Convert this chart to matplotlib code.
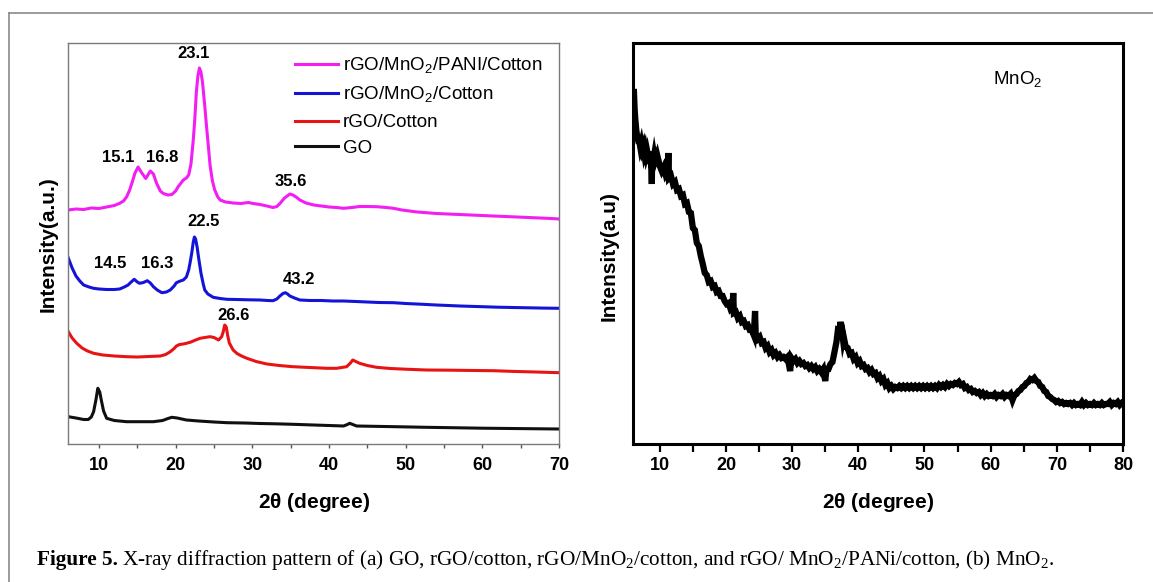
import matplotlib
matplotlib.use("Agg")
import matplotlib.pyplot as plt
from matplotlib.lines import Line2D

plt.rcParams["font.family"] = ["Liberation Sans", "DejaVu Sans"]

# ---------------- data ----------------
# (a) intensities in arbitrary units, curves already offset as drawn
pani_x = [6, 7, 8, 9, 10, 11, 12, 12.7, 13.2, 13.6, 14.0, 14.3, 14.7, 15.1, 15.5,
          16.1, 16.7, 17.1, 17.5, 18.0, 18.4, 19.0, 19.5, 20.0, 20.3, 20.7, 21.0,
          21.4, 21.7, 22.0, 22.3, 22.5, 22.7, 22.9, 23.1, 23.3, 23.5, 23.8, 24.0,
          24.3, 24.5, 24.8, 25.1, 25.5, 25.8, 26.5, 27.5, 28.5, 29.5, 30.1, 31.0,
          31.9, 32.7, 33.2, 33.6, 34.2, 34.9, 35.3, 35.8, 36.2, 37.0, 38.0, 39.0,
          40.0, 41.0, 41.9, 43.0, 44.0, 45.0, 46.2, 47.5, 48.4, 49.5, 50.5, 51.5,
          52.7, 54.0, 55.5, 57.0, 58.5, 60.0, 61.4, 63.0, 64.5, 66.0, 67.5, 69.0, 70.0]
pani_y = [234, 235, 234.5, 236, 235.5, 237, 238.5, 240.7, 243, 247, 254, 261, 271,
          277, 272, 265.5, 273, 270, 261, 253, 250.5, 249, 249.5, 253, 257, 261,
          264, 266, 269, 280, 304, 325, 352, 368, 376, 372, 362, 338, 320, 295, 278,
          263, 254, 247, 244, 242, 241, 240.5, 241.5, 240.5, 239.5, 238, 236.5,
          237.5, 240.5, 246, 250, 249, 246.5, 244, 241, 239, 238, 237, 236.5, 235.7,
          236.5, 237.5, 237.5, 237.3, 236.5, 235.7, 234, 233, 232, 231.3, 230.5,
          230, 229.5, 229, 228.5, 228, 227.5, 227, 226.5, 226, 225.5, 225]

mno2c_x = [6, 6.5, 7.0, 7.5, 8.0, 8.7, 9.3, 10.0, 11.0, 12.0, 12.7, 13.3, 13.8, 14.2,
           14.6, 15.0, 15.3, 15.8, 16.3, 16.7, 17.1, 17.6, 18.2, 18.8, 19.3, 19.8,
           20.1, 20.6, 21.0, 21.4, 21.7, 21.9, 22.1, 22.3, 22.45, 22.6, 22.8, 23.0,
           23.3, 23.6, 23.8, 24.2, 24.9, 25.8, 26.7, 28.0, 29.5, 31.0, 32.0, 32.7,
           33.2, 33.6, 34.0, 34.3, 34.6, 34.9, 35.5, 36.2, 37.5, 39.0, 40.5, 41.9,
           43.5, 45.0, 46.5, 48.4, 50.0, 52.0, 54.0, 57.1, 60.0, 62.0, 64.0, 66.0,
           68.0, 70.0]
mno2c_y = [186, 176, 168, 163, 159, 157, 155.7, 155, 154.5, 154.5, 155, 157, 159, 162,
           164.7, 162, 160.7, 161.5, 163.3, 161, 157.3, 154, 151.3, 152, 154, 158,
           161.3, 163, 164, 167, 174, 182, 191, 202, 207, 205, 197, 186, 171, 160,
           154, 150, 146.7, 145.5, 144.7, 144.5, 144.2, 144, 143.5, 143.3, 145, 148,
           150.5, 151.3, 150, 148, 146, 144, 143.5, 143.5, 143, 143, 142.5, 142,
           141.5, 141.3, 140.5, 139.8, 139, 138, 137.3, 136.8, 136.5, 136.2, 135.9,
           135.7]

rgo_x = [6, 6.5, 7.1, 7.8, 8.5, 9.3, 10.5, 12.0, 13.6, 15.0, 16.5, 18.0, 18.7, 19.3,
         19.8, 20.1, 20.5, 21.0, 21.4, 22.0, 22.6, 23.2, 23.8, 24.5, 25.0, 25.6, 26.0,
         26.2, 26.4, 26.6, 26.8, 27.0, 27.5, 28.0, 28.6, 29.3, 30.5, 31.9, 33.5, 35.3,
         37.5, 39.7, 41.0, 42.3, 42.8, 43.1, 43.5, 44.0, 45.0, 46.2, 48.0, 50.0, 52.7,
         56.0, 59.0, 61.4, 64.0, 67.0, 70.0]
rgo_y = [112.3, 106, 100.7, 96, 93, 90.7, 89, 88, 87.3, 87, 87.5, 88, 89.5, 92.3,
         95.5, 98, 99.5, 100, 100.7, 102, 104, 105.7, 106.5, 107.3, 106.5, 104, 107.3,
         112, 119, 117, 108, 101, 94, 90.5, 88, 85.7, 82.5, 80, 78.5, 77.3, 76.5,
         75.7, 75.7, 77.3, 81, 84, 82.5, 80.7, 78.5, 76.7, 75.5, 74.8, 74, 73.8, 73.5,
         73.3, 72.6, 72, 71.3]

go_x = [6, 7, 8, 8.6, 9.0, 9.3, 9.6, 9.85, 10.1, 10.3, 10.6, 11.0, 12.0, 13.6, 15.5,
        17.1, 18.3, 19.0, 19.5, 20.2, 21.4, 23.0, 25.0, 26.7, 29.0, 31.0, 33.0, 35.3,
        38.0, 40.0, 41.9, 42.4, 42.7, 43.1, 43.6, 45.0, 48.0, 52.7, 56.0, 60.0, 65.0,
        70.0]
go_y = [27.3, 26, 24.5, 24.5, 27, 32.3, 44, 55.7, 52, 44, 33, 25.7, 23.5, 22.3, 22.3,
        22.3, 23.5, 25.5, 26.7, 26, 24, 23, 22, 21.3, 21, 20.5, 20.2, 19.7, 19, 18.5,
        18, 19.5, 20.7, 19.5, 18, 17.8, 17.4, 16.7, 16.3, 15.8, 15.4, 15]

series_labels = [r"rGO/MnO$_\mathregular{2}$/PANI/Cotton",
                 r"rGO/MnO$_\mathregular{2}$/Cotton",
                 "rGO/Cotton", "GO"]
series_colors = ["#f21ef2", "#1414d8", "#e81414", "#101010"]

peak_labels = ["23.1", "15.1", "16.8", "35.6", "22.5", "14.5", "16.3", "43.2", "26.6"]
peak_x = [22.4, 12.45, 18.3, 35.0, 23.7, 11.45, 17.6, 36.05, 27.6]
peak_y = [390, 286, 287, 262, 222, 180, 180, 165, 129]

# (b) MnO2 pattern (noisy trace)
mno2_x = [6.10, 6.20, 6.30, 6.45, 6.60, 6.75, 6.90, 7.05, 7.20, 7.35, 7.50, 7.65, 7.80,
          7.95, 8.10, 8.25, 8.40, 8.55, 8.70, 8.80, 8.85, 9.00, 9.15, 9.30, 9.45, 9.60,
          9.75, 10.0, 10.3, 10.6, 10.9, 11.2, 11.3, 11.4, 11.7, 12.0, 12.3, 12.6, 12.9,
          13.2, 13.5, 13.8, 14.1, 14.4, 14.7, 15.0, 15.3, 15.6, 15.9, 16.2, 16.5, 16.8,
          17.1, 17.4, 17.7, 18.0, 18.3, 18.6, 18.9, 19.2, 19.5, 19.8, 20.1, 20.4, 20.7,
          21.0, 21.1, 21.2, 21.5, 21.8, 22.1, 22.4, 22.7, 23.0, 23.3, 23.6, 23.9, 24.2,
          24.4, 24.5, 24.8, 25.1, 25.4, 25.7, 26.0, 26.3, 26.6, 26.9, 27.2, 27.5, 27.8,
          28.1, 28.4, 28.7, 29.0, 29.3, 29.7, 29.9, 30.2, 30.5, 30.8, 31.1, 31.4, 31.7,
          32.0, 32.3, 32.6, 32.9, 33.2, 33.5, 33.8, 34.1, 34.4, 34.7, 35.0, 35.2, 35.5,
          35.8, 36.1, 36.4, 36.7, 36.9, 37.1, 37.3, 37.5, 37.7, 37.8, 38.1, 38.4, 38.7,
          39.0, 39.3, 39.6, 39.9, 40.2, 40.5, 40.8, 41.1, 41.4, 41.7, 42.0, 42.3, 42.6,
          42.9, 43.2, 43.5, 43.8, 44.1, 44.4, 44.7, 45.0, 45.3, 45.6, 45.9, 46.2, 46.5,
          46.8, 47.1, 47.4, 47.7, 48.0, 48.3, 48.6, 48.9, 49.2, 49.5, 49.8, 50.1, 50.4,
          50.7, 51.0, 51.3, 51.6, 51.9, 52.2, 52.5, 52.8, 53.1, 53.4, 53.7, 54.0, 54.3,
          54.6, 54.9, 55.2, 55.5, 55.8, 56.1, 56.4, 56.7, 57.0, 57.3, 57.6, 57.9, 58.2,
          58.5, 58.8, 59.1, 59.4, 59.7, 60.0, 60.3, 60.6, 60.9, 61.2, 61.5, 61.8, 62.1,
          62.4, 62.7, 63.0, 63.3, 63.6, 63.9, 64.2, 64.5, 64.8, 65.1, 65.4, 65.7, 66.0,
          66.3, 66.6, 66.9, 67.2, 67.5, 67.8, 68.1, 68.4, 68.7, 69.0, 69.3, 69.6, 69.9,
          70.2, 70.5, 70.8, 71.1, 71.4, 71.7, 72.0, 72.3, 72.6, 72.9, 73.2, 73.5, 73.8,
          74.1, 74.4, 74.7, 75.0, 75.3, 75.6, 75.9, 76.2, 76.5, 76.8, 77.1, 77.4, 77.7,
          78.0, 78.3, 78.6, 78.9, 79.2, 79.5, 79.8, 80.0]
mno2_y = [352, 335, 325, 314, 307, 303, 303, 297, 301, 295, 298, 291, 295,
          289, 293, 288, 285, 292, 286, 260, 289, 283, 289, 283, 286, 279,
          285, 278, 273, 277, 269, 272, 291, 266, 268, 260, 262, 254, 255,
          248, 249, 240, 241, 232, 231, 216, 214, 201, 198, 188, 180, 171,
          169, 162, 163, 157, 158, 152, 153, 148, 148, 143, 140, 141, 135,
          137, 151, 131, 132, 126, 128, 122, 123, 118, 119, 114, 114, 109,
          133, 109, 105, 107, 101, 102, 96, 98, 92, 94, 89, 91, 87,
          89, 86, 87, 85, 87, 73, 86, 83, 85, 81, 83, 80, 81,
          78, 79, 76, 78, 75, 77, 73, 75, 72, 75, 63, 75, 75,
          80, 82, 92, 102, 113, 112, 122, 115, 104, 107, 97, 96, 90,
          91, 85, 87, 81, 83, 78, 79, 75, 76, 72, 74, 70, 71,
          66, 68, 63, 65, 59, 61, 56, 58, 55, 57, 56, 58, 56,
          58, 56, 58, 56, 58, 56, 58, 56, 58, 56, 58, 56, 58,
          56, 58, 56, 58, 56, 59, 57, 59, 57, 60, 58, 60, 59,
          61, 60, 62, 59, 60, 56, 57, 54, 55, 52, 53, 51, 52,
          49, 51, 48, 50, 48, 49, 48, 50, 47, 49, 48, 50, 47,
          49, 48, 50, 44, 49, 50, 53, 54, 57, 58, 61, 62, 65,
          64, 66, 63, 62, 58, 57, 53, 52, 48, 47, 45, 44, 42,
          43, 41, 42, 40, 41, 40, 41, 39, 41, 39, 40, 39, 42,
          39, 41, 39, 40, 39, 41, 39, 40, 39, 41, 39, 40, 40,
          42, 39, 41, 40, 42, 39, 41, 40]

W, H = 1153, 582
fig = plt.figure(figsize=(W / 100, H / 100), dpi=100)

# thin grey frame around the figure (only left/top edges are visible)
fig.add_artist(Line2D([8.5 / W, 8.5 / W], [0, 1 - 12.7 / H], color="#8a8a8a", lw=1.2))
fig.add_artist(Line2D([8.5 / W, 1], [1 - 12.7 / H, 1 - 12.7 / H], color="#8a8a8a", lw=1.2))

ax_bot = 1 - 444 / H
ax_h = 400.7 / H
ax1 = fig.add_axes([68.3 / W, ax_bot, 490.7 / W, ax_h])
ax2 = fig.add_axes([633.3 / W, ax_bot, 489.7 / W, ax_h])

# ---------------- (a) ----------------
xs = [pani_x, mno2c_x, rgo_x, go_x]
ys = [pani_y, mno2c_y, rgo_y, go_y]
for x, y, c, lab in zip(xs, ys, series_colors, series_labels):
    ax1.plot(x, y, color=c, lw=2.2, label=lab, solid_joinstyle="round")

for t, x, y in zip(peak_labels, peak_x, peak_y):
    ax1.text(x, y, t, ha="center", va="center", fontsize=12, fontweight="bold")

ax1.set_xlim(6, 70)
ax1.set_ylim(0, 400.7)
ax1.set_yticks([])
ax1.set_xticks(range(10, 71, 10))
ax1.set_xticks(range(15, 70, 10), minor=True)
for s in ax1.spines.values():
    s.set_color("#7a7a7a")
    s.set_linewidth(1.0)
ax1.tick_params(axis="x", which="both", direction="out", length=3, width=1,
                color="#555555", pad=6)
ax1.tick_params(axis="x", labelsize=13)
for lab in ax1.get_xticklabels():
    lab.set_fontweight("bold")

ax1.legend(loc="upper left", bbox_to_anchor=(0.462, 0.969), frameon=False,
           fontsize=13.5, handlelength=2.3, handletextpad=0.27, labelspacing=0.47,
           borderpad=0, borderaxespad=0)

ax1.set_xlabel(r"2$\mathregular{\theta}$ (degree)", fontsize=15, fontweight="bold")
ax1.xaxis.set_label_coords(0.5, -(503 - 444) / 400.7)
ax1.xaxis.label.set_va("center")
ax1.set_ylabel("Intensity(a.u.)", fontsize=15, fontweight="bold")
ax1.yaxis.set_label_coords((48 - 68.3) / 490.7, 0.5)
ax1.yaxis.label.set_va("center")

# ---------------- (b) ----------------
ax2.plot(mno2_x, mno2_y, color="black", lw=4.5, solid_joinstyle="miter")
ax2.text(0.784, 0.908, r"MnO$_\mathregular{2}$", transform=ax2.transAxes,
         ha="center", va="center", fontsize=13.5)
ax2.set_xlim(6, 80)
ax2.set_ylim(0, 400.7)
ax2.set_yticks([])
ax2.set_xticks(range(10, 81, 10))
ax2.set_xticks(range(15, 80, 10), minor=True)
for s in ax2.spines.values():
    s.set_color("black")
    s.set_linewidth(2.2)
ax2.tick_params(axis="x", which="both", direction="out", length=5.4, width=1.6,
                pad=4)
ax2.tick_params(axis="x", labelsize=13)
for lab in ax2.get_xticklabels():
    lab.set_fontweight("bold")

ax2.set_xlabel(r"2$\mathregular{\theta}$ (degree)", fontsize=15, fontweight="bold")
ax2.xaxis.set_label_coords(0.5, -(503 - 444) / 400.7)
ax2.xaxis.label.set_va("center")
ax2.set_ylabel("Intensity(a.u)", fontsize=15, fontweight="bold")
ax2.yaxis.set_label_coords((609 - 633.3) / 489.7, 0.47)
ax2.yaxis.label.set_va("center")

# ---------------- caption ----------------
cap_y = 1 - 565 / H
t1 = fig.text(37 / W, cap_y, "Figure 5.", fontsize=15.3, fontweight="bold",
              family="Liberation Serif", va="baseline")
r = fig.canvas.get_renderer()
bb = t1.get_window_extent(r)
fig.text((bb.x1 + 4) / W, cap_y,
         r"X-ray diffraction pattern of (a) GO, rGO/cotton, rGO/MnO$_\mathregular{2}$/cotton, "
         r"and rGO/ MnO$_\mathregular{2}$/PANi/cotton, (b) MnO$_\mathregular{2}$.",
         fontsize=15.3, family="Liberation Serif", va="baseline")

fig.savefig("out.png", dpi=100)
